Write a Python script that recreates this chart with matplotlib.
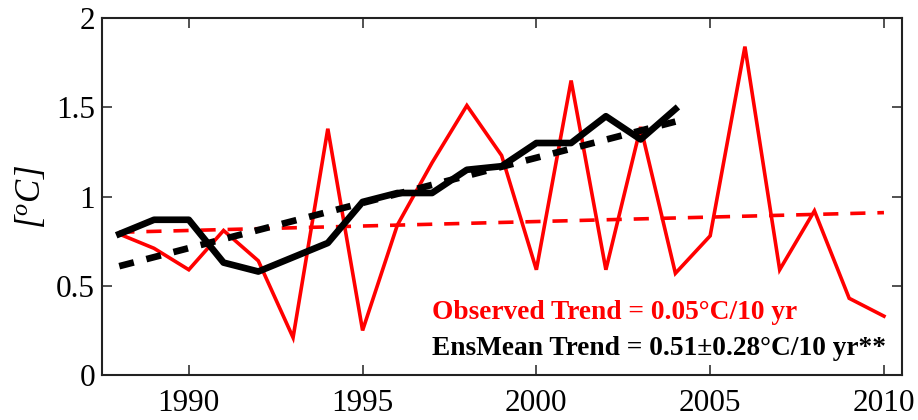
import matplotlib
matplotlib.use("Agg")
import matplotlib.pyplot as plt
import numpy as np

years_obs = list(range(1988, 2011))
obs = [0.79, 0.71, 0.59, 0.81, 0.64, 0.21, 1.38, 0.25, 0.84, 1.19, 1.51, 1.23,
       0.59, 1.65, 0.59, 1.39, 0.57, 0.78, 1.84, 0.59, 0.92, 0.43, 0.33]

years_ens = list(range(1988, 2005))
ens = [0.79, 0.87, 0.87, 0.63, 0.58, 0.66, 0.74, 0.97, 1.02, 1.02, 1.15, 1.17,
       1.30, 1.30, 1.45, 1.32, 1.49]

obs_trend_ends = [0.80, 0.91]
ens_trend_ends = [0.61, 1.42]

xticks = [1990, 1995, 2000, 2005, 2010]
yticks = [0, 0.5, 1, 1.5, 2]
ytick_labels = ["0", "0.5", "1", "1.5", "2"]

plt.rcParams['font.family'] = ['Liberation Serif', 'DejaVu Serif']
plt.rcParams['mathtext.fontset'] = 'custom'
plt.rcParams['mathtext.it'] = 'Liberation Serif:italic'
plt.rcParams['mathtext.rm'] = 'Liberation Serif'

fig = plt.figure(figsize=(9.18, 4.2), dpi=100)
ax = fig.add_axes([0.111, 0.107, 0.8716, 0.850])

ax.plot(years_obs, obs, color='#ff0000', lw=2.6, solid_joinstyle='miter', zorder=3)
ax.plot([years_obs[0], years_obs[-1]], obs_trend_ends, color='#ff0000', lw=2.6,
        dashes=(4.2, 3.3), zorder=2)
ax.plot(years_ens, ens, color='black', lw=4.8, zorder=4)
ax.plot([years_ens[0], years_ens[-1]], ens_trend_ends, color='black', lw=4.8,
        dashes=(2.25, 1.95), zorder=4)

ax.set_xlim(1987.5, 2010.52)
ax.set_ylim(0, 2)
ax.set_xticks(xticks)
ax.set_xticklabels([str(x) for x in xticks])
ax.set_yticks(yticks)
ax.set_yticklabels(ytick_labels)
ax.tick_params(direction='in', length=7, width=1.2, labelsize=22.5, top=True, right=True,
               color='#333333')
ax.tick_params(axis='x', pad=10)
ax.tick_params(axis='y', pad=5)
for s in ax.spines.values():
    s.set_linewidth(1.5)
    s.set_color('#222222')

ax.set_ylabel(r'[$^o$C]', fontsize=25, fontstyle='italic', labelpad=6)

ax.text(0.413, 0.175, 'Observed Trend = 0.05°C/10 yr', transform=ax.transAxes,
        color='#ff0000', fontsize=19.7, fontweight='bold', ha='left', va='center')
ax.text(0.413, 0.073, 'EnsMean Trend = 0.51±0.28°C/10 yr**', transform=ax.transAxes,
        color='black', fontsize=19.7, fontweight='bold', ha='left', va='center')

fig.savefig('out.png', dpi=100)
